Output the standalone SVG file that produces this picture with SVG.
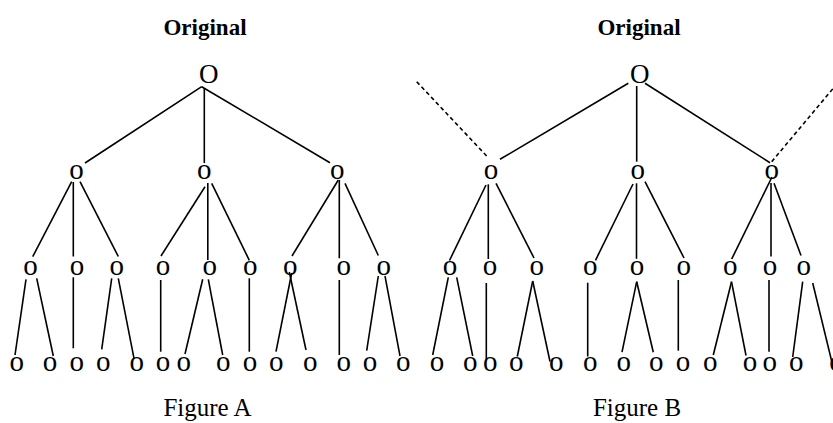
<svg xmlns="http://www.w3.org/2000/svg" width="833" height="423" viewBox="0 0 833 423">
  <style>
    .n { font-family: "Liberation Serif", "Times New Roman", serif; font-size: 29px; text-anchor: middle; fill: #000; }
    .n.root { font-size: 27px; }
    .title { font-family: "Liberation Serif", "Times New Roman", serif; font-size: 23px; font-weight: bold; text-anchor: middle; fill: #000; }
    .cap { font-family: "Liberation Serif", "Times New Roman", serif; font-size: 25px; text-anchor: middle; fill: #000; }
    .edges line { stroke: #000; stroke-width: 1.6; fill: none; }
    .edges line.dash { stroke-dasharray: 4 3; }
  </style>
  <rect width="833" height="423" fill="#fff"/>

  <!-- headings and captions -->
  <text class="title" x="205" y="35">Original</text>
  <text class="title" x="639" y="35">Original</text>
  <text class="cap" x="207.5" y="416">Figure A</text>
  <text class="cap" x="637" y="416">Figure B</text>

  <!-- connectors -->
  <g id="connectors" class="edges">
    <!-- tree A: root to level 1 -->
    <line x1="201.7" y1="86.7" x2="85" y2="163"/>
    <line x1="204.3" y1="88" x2="204.3" y2="163"/>
    <line x1="201.7" y1="86.7" x2="330" y2="162.7"/>
    <!-- tree A: level 1 to level 2 -->
    <line x1="71.7" y1="181.7" x2="32.7" y2="256.7"/>
    <line x1="73.3" y1="182" x2="73.3" y2="256.5"/>
    <line x1="80" y1="181.7" x2="118.3" y2="256.5"/>
    <line x1="205" y1="186.7" x2="161" y2="256"/>
    <line x1="207.8" y1="183" x2="207.8" y2="260"/>
    <line x1="211.7" y1="183.3" x2="249.3" y2="260.3"/>
    <line x1="338.3" y1="180" x2="292" y2="256"/>
    <line x1="339.3" y1="180" x2="339.3" y2="258.3"/>
    <line x1="345" y1="183.3" x2="378.3" y2="255.5"/>
    <!-- tree A: level 2 to level 3 -->
    <line x1="26" y1="279.3" x2="15" y2="355"/>
    <line x1="36.7" y1="278.3" x2="53.3" y2="356"/>
    <line x1="73.3" y1="277.3" x2="73.3" y2="348.3"/>
    <line x1="111.7" y1="278.3" x2="101.7" y2="349.3"/>
    <line x1="118.3" y1="278.3" x2="134" y2="358.3"/>
    <line x1="160.7" y1="280" x2="160.7" y2="351.7"/>
    <line x1="202.7" y1="279.3" x2="185" y2="354"/>
    <line x1="208.3" y1="279.3" x2="222.7" y2="355"/>
    <line x1="249.3" y1="278.3" x2="249.3" y2="351.7"/>
    <line x1="291.7" y1="273" x2="276" y2="351.7"/>
    <line x1="289.3" y1="272" x2="306" y2="350"/>
    <line x1="339.3" y1="280" x2="339.3" y2="355"/>
    <line x1="378.3" y1="276" x2="366.7" y2="350.7"/>
    <line x1="385" y1="276" x2="400" y2="356"/>

    <!-- tree B: root to level 1, with cut-off siblings -->
    <line x1="628.3" y1="83.3" x2="500" y2="159.3"/>
    <line x1="636.7" y1="86" x2="636.7" y2="161.7"/>
    <line x1="645" y1="83.3" x2="770" y2="162.7"/>
    <line class="dash" x1="416.7" y1="81.7" x2="487.3" y2="156.7"/>
    <line class="dash" x1="771.7" y1="161.7" x2="836" y2="85"/>
    <!-- tree B: level 1 to level 2 -->
    <line x1="486" y1="185" x2="449.5" y2="260.5"/>
    <line x1="488.3" y1="184.3" x2="488.3" y2="259"/>
    <line x1="496" y1="183.3" x2="534" y2="258"/>
    <line x1="633" y1="184" x2="595.5" y2="260.3"/>
    <line x1="636.5" y1="183.3" x2="636.5" y2="258.8"/>
    <line x1="645" y1="181.7" x2="684" y2="258"/>
    <line x1="772" y1="177" x2="731.7" y2="259"/>
    <line x1="771" y1="183" x2="771" y2="256.5"/>
    <line x1="774" y1="183.3" x2="801" y2="255.5"/>
    <!-- tree B: level 2 to level 3 -->
    <line x1="448.3" y1="277.3" x2="432.7" y2="355"/>
    <line x1="456.7" y1="277.3" x2="472.7" y2="356"/>
    <line x1="486.3" y1="283" x2="486.3" y2="359.5"/>
    <line x1="532.7" y1="281" x2="517.3" y2="356.5"/>
    <line x1="532.7" y1="281" x2="550" y2="361.5"/>
    <line x1="587.7" y1="282.7" x2="587.7" y2="356.5"/>
    <line x1="636.7" y1="281.7" x2="622" y2="352.2"/>
    <line x1="636.7" y1="281.7" x2="653.3" y2="352.2"/>
    <line x1="678.3" y1="280" x2="678.3" y2="350.7"/>
    <line x1="731.5" y1="281.7" x2="713.3" y2="355"/>
    <line x1="731.5" y1="281.7" x2="746" y2="355.5"/>
    <line x1="769" y1="280" x2="769" y2="351.7"/>
    <line x1="802.7" y1="281.7" x2="792.7" y2="357"/>
    <line x1="812.7" y1="283" x2="837" y2="383"/>
  </g>

  <!-- tree A nodes -->
  <g id="a-root"><text class="n root" x="208.8" y="83">O</text></g>
  <g id="a-1"><text class="n" x="76.5" y="178.5">o</text></g>
  <g id="a-2"><text class="n" x="204.2" y="178.5">o</text></g>
  <g id="a-3"><text class="n" x="337.2" y="178.5">o</text></g>
  <g id="a-1-1"><text class="n" x="30.5" y="275">o</text></g>
  <g id="a-1-2"><text class="n" x="77" y="275">o</text></g>
  <g id="a-1-3"><text class="n" x="116.7" y="275">o</text></g>
  <g id="a-2-1"><text class="n" x="163" y="275">o</text></g>
  <g id="a-2-2"><text class="n" x="209.7" y="275">o</text></g>
  <g id="a-2-3"><text class="n" x="250.3" y="275">o</text></g>
  <g id="a-3-1"><text class="n" x="290.3" y="275">o</text></g>
  <g id="a-3-2"><text class="n" x="343.8" y="275">o</text></g>
  <g id="a-3-3"><text class="n" x="383.7" y="275">o</text></g>
  <g id="a-1-1-1"><text class="n" x="16.7" y="371">o</text></g>
  <g id="a-1-1-2"><text class="n" x="50" y="371">o</text></g>
  <g id="a-1-2-1"><text class="n" x="76.7" y="371">o</text></g>
  <g id="a-1-3-1"><text class="n" x="103.3" y="371">o</text></g>
  <g id="a-1-3-2"><text class="n" x="136.7" y="371">o</text></g>
  <g id="a-2-1-1"><text class="n" x="163" y="371">o</text></g>
  <g id="a-2-2-1"><text class="n" x="183.8" y="371">o</text></g>
  <g id="a-2-2-2"><text class="n" x="223.3" y="371">o</text></g>
  <g id="a-2-3-1"><text class="n" x="250" y="371">o</text></g>
  <g id="a-3-1-1"><text class="n" x="276.3" y="371">o</text></g>
  <g id="a-3-1-2"><text class="n" x="310.3" y="371">o</text></g>
  <g id="a-3-2-1"><text class="n" x="343.8" y="371">o</text></g>
  <g id="a-3-3-1"><text class="n" x="370" y="371">o</text></g>
  <g id="a-3-3-2"><text class="n" x="403.3" y="371">o</text></g>

  <!-- tree B nodes -->
  <g id="b-root"><text class="n root" x="639.7" y="83">O</text></g>
  <g id="b-1"><text class="n" x="491" y="178.5">o</text></g>
  <g id="b-2"><text class="n" x="637.8" y="178.5">o</text></g>
  <g id="b-3"><text class="n" x="771.7" y="178.5">o</text></g>
  <g id="b-1-1"><text class="n" x="450" y="275">o</text></g>
  <g id="b-1-2"><text class="n" x="490" y="275">o</text></g>
  <g id="b-1-3"><text class="n" x="536.7" y="275">o</text></g>
  <g id="b-2-1"><text class="n" x="590.3" y="275">o</text></g>
  <g id="b-2-2"><text class="n" x="637" y="275">o</text></g>
  <g id="b-2-3"><text class="n" x="683.8" y="275">o</text></g>
  <g id="b-3-1"><text class="n" x="730.3" y="275">o</text></g>
  <g id="b-3-2"><text class="n" x="770" y="275">o</text></g>
  <g id="b-3-3"><text class="n" x="803.7" y="275">o</text></g>
  <g id="b-1-1-1"><text class="n" x="437" y="371">o</text></g>
  <g id="b-1-1-2"><text class="n" x="470.3" y="371">o</text></g>
  <g id="b-1-2-1"><text class="n" x="490.3" y="371">o</text></g>
  <g id="b-1-3-1"><text class="n" x="516.3" y="371">o</text></g>
  <g id="b-1-3-2"><text class="n" x="556.3" y="371">o</text></g>
  <g id="b-2-1-1"><text class="n" x="590.3" y="371">o</text></g>
  <g id="b-2-2-1"><text class="n" x="623.7" y="371">o</text></g>
  <g id="b-2-2-2"><text class="n" x="656.3" y="371">o</text></g>
  <g id="b-2-3-1"><text class="n" x="683" y="371">o</text></g>
  <g id="b-3-1-1"><text class="n" x="710.3" y="371">o</text></g>
  <g id="b-3-1-2"><text class="n" x="750" y="371">o</text></g>
  <g id="b-3-2-1"><text class="n" x="769.7" y="371">o</text></g>
  <g id="b-3-3-1"><text class="n" x="796.3" y="371">o</text></g>
  <g id="b-3-3-2"><text class="n" x="836.5" y="371">o</text></g>
</svg>
